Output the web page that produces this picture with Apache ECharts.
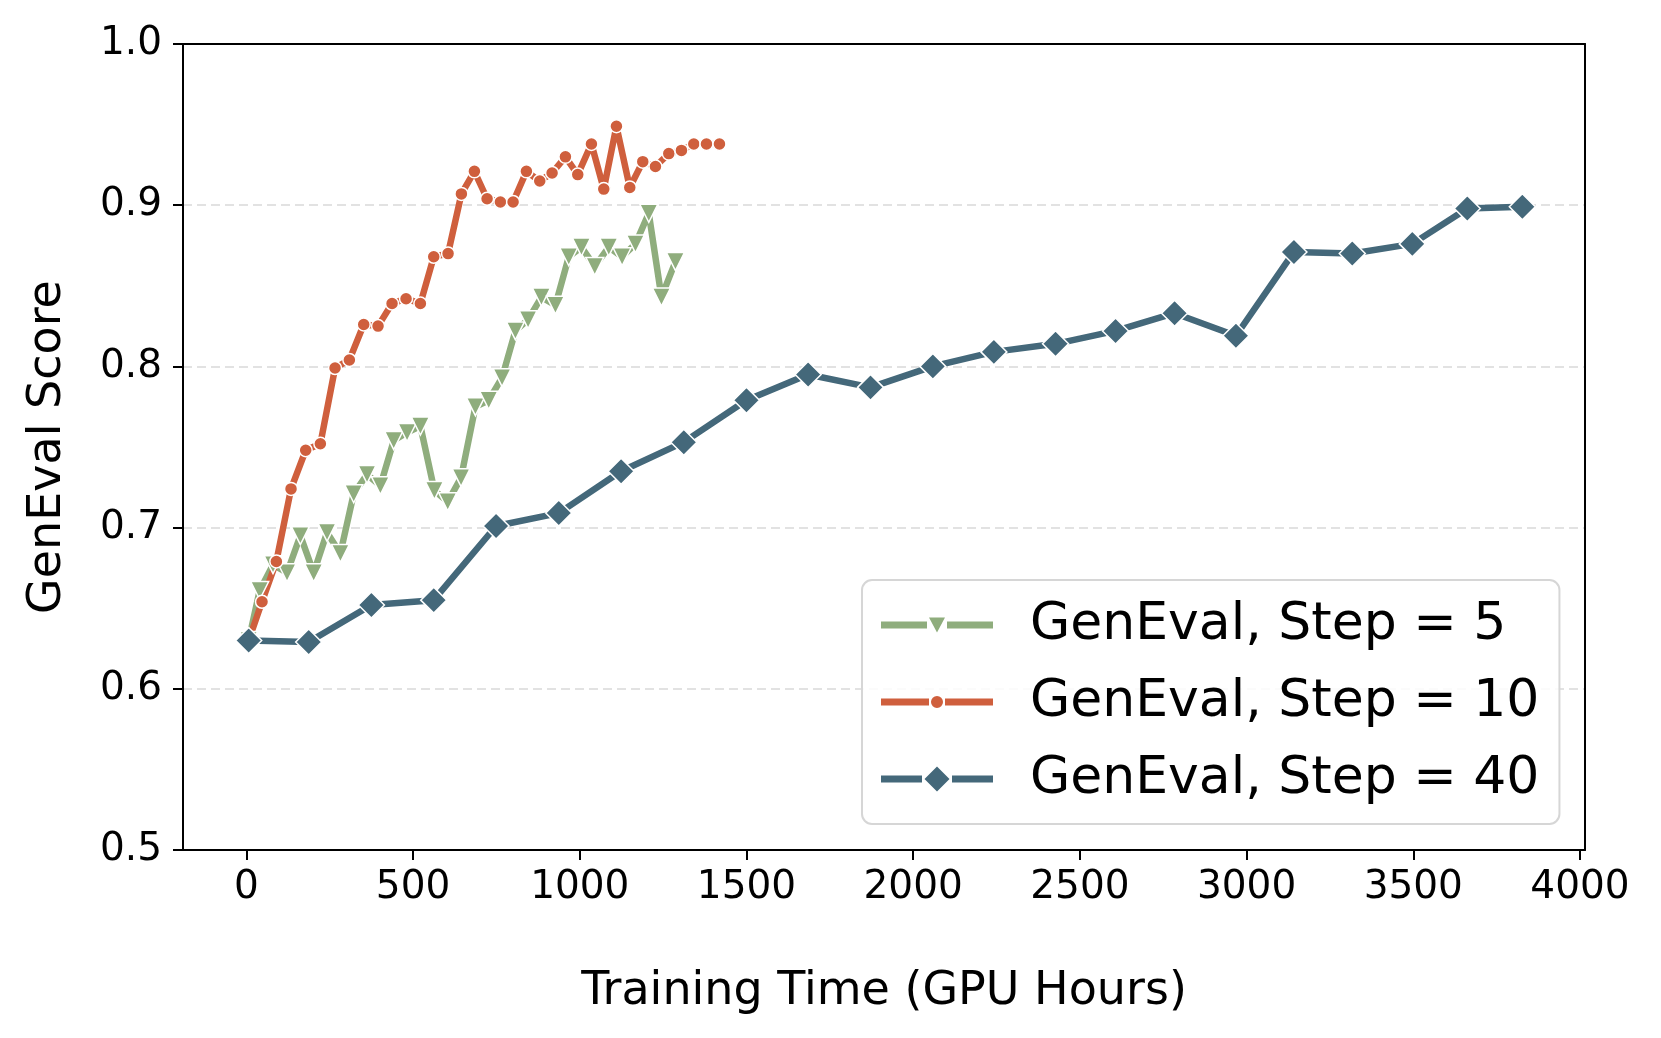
<!DOCTYPE html>
<html>
<head>
<meta charset="utf-8">
<script src="https://cdn.jsdelivr.net/npm/echarts@6/dist/echarts.min.js"></script>
<style>
html,body{margin:0;padding:0;background:#ffffff;}
#chart{width:1661px;height:1038px;}
</style>
</head>
<body>
<div id="chart"></div>
<script>
// ---- data ----
const seriesNames = ['GenEval, Step = 5', 'GenEval, Step = 10', 'GenEval, Step = 40'];

const step5Hours = [7, 40, 80, 122, 162, 202, 242, 282, 322, 362, 402, 442, 482, 522, 564, 604, 644, 687, 727, 767, 807, 845, 885, 927, 967, 1005, 1045, 1087, 1127, 1167, 1207, 1245, 1287];
const step5Score = [0.630, 0.661, 0.677, 0.672, 0.695, 0.672, 0.697, 0.684, 0.721, 0.733, 0.726, 0.754, 0.759, 0.763, 0.723, 0.716, 0.731, 0.775, 0.779, 0.793, 0.822, 0.829, 0.843, 0.838, 0.868, 0.874, 0.862, 0.874, 0.868, 0.876, 0.895, 0.843, 0.865];

const step10Hours = [7, 47, 90, 134, 178, 222, 266, 309, 352, 395, 437, 479, 522, 562, 605, 645, 684, 722, 762, 800, 840, 880, 917, 957, 994, 1035, 1072, 1110, 1150, 1189, 1227, 1267, 1305, 1342, 1380, 1419];
const step10Score = [0.630, 0.654, 0.679, 0.724, 0.748, 0.752, 0.799, 0.804, 0.826, 0.825, 0.839, 0.842, 0.839, 0.868, 0.870, 0.907, 0.921, 0.904, 0.902, 0.902, 0.921, 0.915, 0.920, 0.930, 0.919, 0.938, 0.910, 0.949, 0.911, 0.927, 0.924, 0.932, 0.934, 0.938, 0.938, 0.938];

const step40Hours = [7, 187, 375, 562, 749, 937, 1124, 1312, 1500, 1685, 1872, 2059, 2242, 2427, 2607, 2784, 2968, 3142, 3317, 3497, 3662, 3827];
const step40Score = [0.630, 0.629, 0.652, 0.655, 0.701, 0.709, 0.735, 0.753, 0.779, 0.795, 0.787, 0.800, 0.809, 0.814, 0.822, 0.833, 0.819, 0.871, 0.870, 0.876, 0.898, 0.899];

const xTickValues = [0, 500, 1000, 1500, 2000, 2500, 3000, 3500, 4000];
const yTickLabels = ['0.5', '0.6', '0.7', '0.8', '0.9', '1.0'];

// ---- styling ----
const FONT = 'DejaVu Sans';
const colors = ['#8FAD7D', '#CF5F3D', '#44687A'];

function pairs(xs, ys) { return xs.map((x, i) => [x, ys[i]]); }

const legendIcons = [
  'path://M0 10.5H46V17.5H0Z M66 10.5H112V17.5H66Z M48 6.5L64 6.5L56 21.5Z',
  'path://M0 10.5H48V17.5H0Z M64 10.5H112V17.5H64Z M50 14A6 6 0 1 0 62 14A6 6 0 1 0 50 14Z',
  'path://M0 10.5H41V17.5H0Z M71 10.5H112V17.5H71Z M56 1.5L68.5 14L56 26.5L43.5 14Z'
];

const chart = echarts.init(document.getElementById('chart'), null, {renderer: 'canvas'});

const XMIN = -190, XMAX = 4015;

const option = {
  animation: false,
  backgroundColor: '#ffffff',
  textStyle: {fontFamily: FONT},
  grid: {left: 183, right: 76, top: 44, bottom: 188, containLabel: false},
  legend: {
    orient: 'vertical',
    left: 862,
    top: 580,
    padding: [17, 20, 17, 19],
    itemWidth: 112,
    itemHeight: 28,
    itemGap: 21,
    backgroundColor: 'rgba(255,255,255,0.85)',
    borderColor: '#d6d6d6',
    borderWidth: 2,
    borderRadius: 10,
    itemStyle: {borderWidth: 0},
    textStyle: {fontFamily: FONT, fontSize: 52, color: '#000', lineHeight: 56, padding: [0, 0, 0, 32]},
    data: seriesNames.map((n, i) => ({name: n, icon: legendIcons[i]}))
  },
  xAxis: [{
    type: 'value',
    min: XMIN, max: XMAX,
    name: 'Training Time (GPU Hours)',
    nameLocation: 'middle',
    nameGap: 119,
    nameTextStyle: {fontFamily: FONT, fontSize: 46, color: '#000'},
    axisLine: {show: true, onZero: false, lineStyle: {color: '#000', width: 2}},
    axisTick: {show: true, inside: false, length: 10, lineStyle: {color: '#000', width: 2}, customValues: xTickValues},
    axisLabel: {show: true, margin: 18, fontFamily: FONT, fontSize: 39, color: '#000', customValues: xTickValues,
      formatter: v => String(v)},
    splitLine: {show: false}
  }, {
    type: 'value', position: 'top', min: XMIN, max: XMAX, z: 10,
    axisLine: {show: true, onZero: false, lineStyle: {color: '#000', width: 2}},
    axisTick: {show: false}, axisLabel: {show: false}, splitLine: {show: false}
  }],
  yAxis: [{
    type: 'value',
    min: 0.5, max: 1.0, interval: 0.1,
    name: 'GenEval Score',
    nameLocation: 'middle',
    nameGap: 112,
    nameTextStyle: {fontFamily: FONT, fontSize: 46, color: '#000'},
    axisLine: {show: true, onZero: false, lineStyle: {color: '#000', width: 2}},
    axisTick: {show: true, inside: false, length: 10, lineStyle: {color: '#000', width: 2}},
    axisLabel: {show: true, margin: 21, fontFamily: FONT, fontSize: 39, color: '#000',
      formatter: v => yTickLabels[Math.round((v - 0.5) * 10)]},
    splitLine: {show: true, lineStyle: {color: '#d9d9d9', width: 1.6, type: [9, 5]}}
  }, {
    type: 'value', position: 'right', min: 0.5, max: 1.0, interval: 0.1, z: 10,
    axisLine: {show: true, onZero: false, lineStyle: {color: '#000', width: 2}},
    axisTick: {show: false}, axisLabel: {show: false}, splitLine: {show: false}
  }],
  series: [{
    name: seriesNames[0],
    type: 'line',
    data: pairs(step5Hours, step5Score),
    symbol: 'triangle', symbolRotate: 180, symbolSize: 18,
    showSymbol: true, showAllSymbol: true,
    lineStyle: {color: colors[0], width: 6.5},
    itemStyle: {color: colors[0], borderColor: '#ffffff', borderWidth: 1.5},
    emphasis: {disabled: true}
  }, {
    name: seriesNames[1],
    type: 'line',
    data: pairs(step10Hours, step10Score),
    symbol: 'circle', symbolSize: 13,
    showSymbol: true, showAllSymbol: true,
    lineStyle: {color: colors[1], width: 6.5},
    itemStyle: {color: colors[1], borderColor: '#ffffff', borderWidth: 1.5},
    emphasis: {disabled: true}
  }, {
    name: seriesNames[2],
    type: 'line',
    data: pairs(step40Hours, step40Score),
    symbol: 'diamond', symbolSize: [26, 26],
    showSymbol: true, showAllSymbol: true,
    lineStyle: {color: colors[2], width: 6.5},
    itemStyle: {color: colors[2], borderColor: '#ffffff', borderWidth: 1.5},
    emphasis: {disabled: true}
  }]
};

chart.setOption(option);
</script>
</body>
</html>
